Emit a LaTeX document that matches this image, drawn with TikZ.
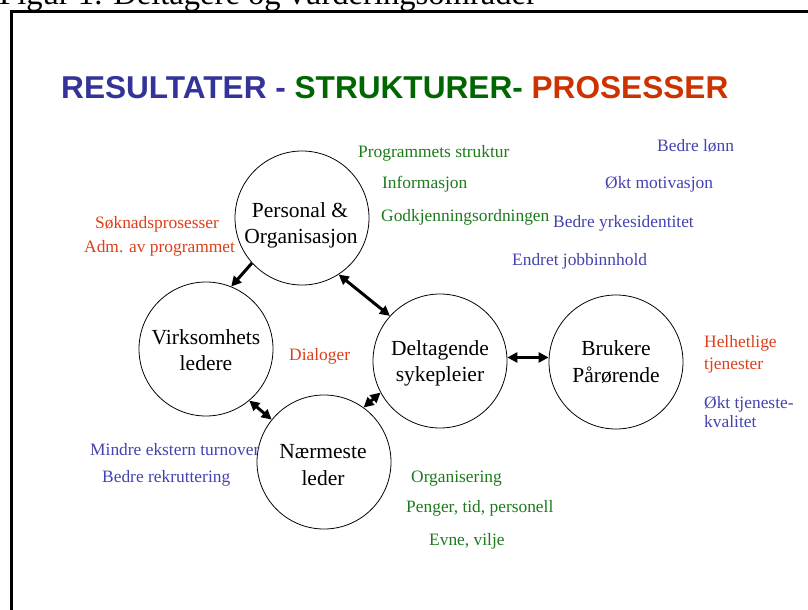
\documentclass[tikz,border=0pt]{standalone}
\usepackage{fontspec}
\setmainfont{Liberation Serif}
\newfontfamily\headsans{Liberation Sans}
\usetikzlibrary{arrows.meta}
\definecolor{resblue}{HTML}{333399}
\definecolor{strgreen}{HTML}{006600}
\definecolor{proared}{HTML}{CC3300}
\definecolor{lblblue}{HTML}{4343B0}
\definecolor{lblgreen}{HTML}{1C7A1C}
\definecolor{lblred}{HTML}{DD3F1A}
\begin{document}
\begin{tikzpicture}[x=1pt,y=-1pt,
  actor/.style={circle,draw,line width=0.8pt,minimum size=134pt,inner sep=0pt},
  ctext/.style={anchor=base,inner sep=0pt,font=\fontsize{21.5}{26}\selectfont},
  lbl/.style={anchor=base west,inner sep=0pt,font=\fontsize{17.4}{21}\selectfont},
  reslbl/.style={lbl,text=lblblue},
  strlbl/.style={lbl,text=lblgreen},
  prolbl/.style={lbl,text=lblred},
  duplex/.style={line width=3pt,{Triangle[length=10pt,width=10pt]}-{Triangle[length=10pt,width=10pt]}},
  simplex/.style={line width=3pt,-{Triangle[length=10pt,width=10pt]}}
]
\useasboundingbox (0,0) rectangle (808,610);

% caption above the frame (only its lower part lies on the page)
\node[anchor=base west,inner sep=0pt,font=\fontsize{32.6}{36}\selectfont] (caption) at (-1,5)
  {Figur 1. Deltagere og vurderingsområder};

% frame
\draw[line width=2.5pt] (11.5,11.5) rectangle (830,630);

% heading
\node[anchor=base west,inner sep=0pt,font=\headsans\bfseries\fontsize{31.6}{36}\selectfont] (heading) at (61,98)
  {\textcolor{resblue}{RESULTATER -} \textcolor{strgreen}{STRUKTURER-} \textcolor{proared}{PROSESSER}};

% actors
\node[actor] (pers) at (302,218) {};
\node[actor] (virk) at (206,349) {};
\node[actor] (delt) at (440,361) {};
\node[actor] (bruk) at (616,362) {};
\node[actor] (naer) at (324,462) {};

\node[ctext] (pers1) at (300,217) {Personal \&};
\node[ctext] (pers2) at (301,243) {Organisasjon};
\node[ctext] (virk1) at (206,344) {Virksomhets};
\node[ctext] (virk2) at (206,370) {ledere};
\node[ctext] (delt1) at (440,355) {Deltagende};
\node[ctext] (delt2) at (440,381) {sykepleier};
\node[ctext] (bruk1) at (616,355) {Brukere};
\node[ctext] (bruk2) at (616,382) {Pårørende};
\node[ctext] (naer1) at (323,458) {Nærmeste};
\node[ctext] (naer2) at (323,485) {leder};

% connectors
\draw[simplex] (pers.222) -- (virk.68);
\draw[duplex] (pers.-57) -- (delt.138);
\draw[duplex] (virk.-50) -- (naer.141);
\draw[duplex] (delt.208) -- (naer.54);
\draw[duplex] (delt.3) -- (delt.3 -| bruk.west);

% structures
\node[strlbl] (s1) at (358,157) {Programmets struktur};
\node[strlbl] (s2) at (382,188) {Informasjon};
\node[strlbl] (s3) at (381,221) {Godkjenningsordningen};
\node[strlbl] (s4) at (411,482) {Organisering};
\node[strlbl] (s5) at (406,512) {Penger, tid, personell};
\node[strlbl] (s6) at (429,545) {Evne, vilje};

% results
\node[reslbl] (r1) at (657,151) {Bedre lønn};
\node[reslbl] (r2) at (605,188) {Økt motivasjon};
\node[reslbl] (r3) at (553,227) {Bedre yrkesidentitet};
\node[reslbl] (r4) at (512,265) {Endret jobbinnhold};
\node[reslbl] (r5) at (704,408) {Økt tjeneste-};
\node[reslbl] (r6) at (704,427) {kvalitet};
\node[reslbl] (r7) at (90,455) {Mindre ekstern turnover};
\node[reslbl] (r8) at (102,482) {Bedre rekruttering};

% processes
\node[prolbl] (p1) at (95,228) {Søknadsprosesser};
\node[prolbl] (p2) at (84,252) {Adm. av programmet};
\node[prolbl] (p3) at (289,360) {Dialoger};
\node[prolbl] (p4) at (704,347) {Helhetlige};
\node[prolbl] (p5) at (704,369) {tjenester};
\end{tikzpicture}
\end{document}
